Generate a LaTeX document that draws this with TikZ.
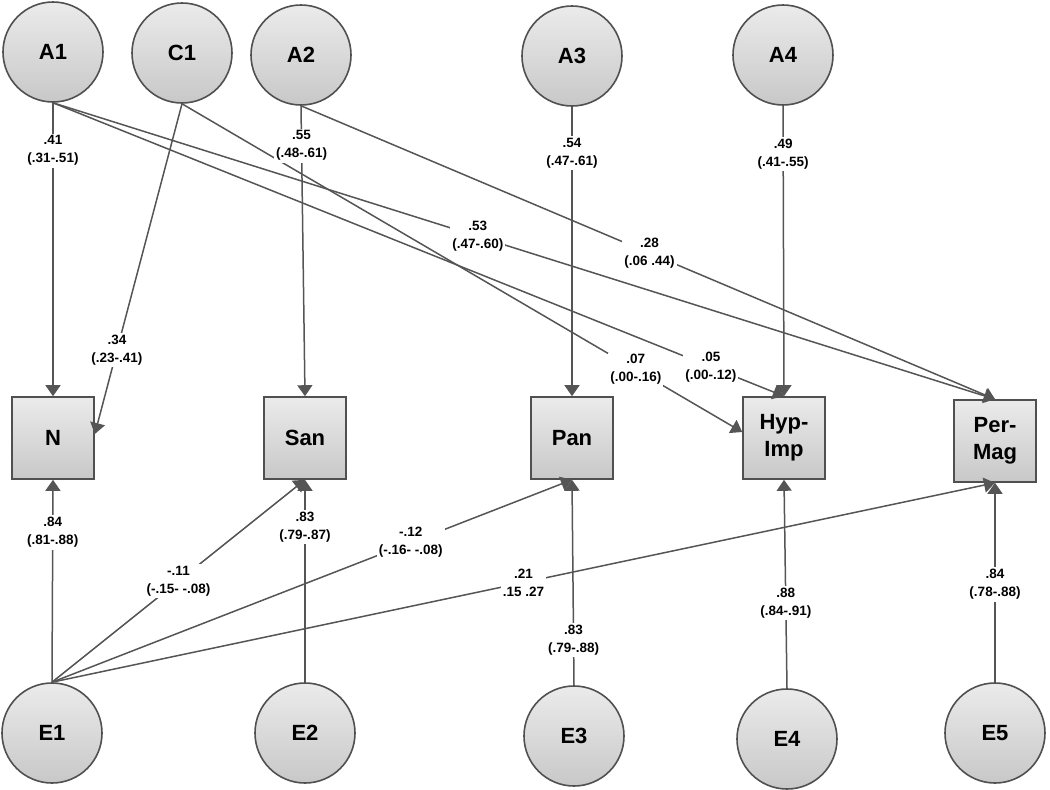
\documentclass[tikz,border=0pt]{standalone}
\usepackage{fontspec}
\setmainfont{Liberation Sans}
\usetikzlibrary{arrows.meta}
\definecolor{edgecol}{HTML}{555555}
\definecolor{bordcol}{HTML}{505050}
\definecolor{topcol}{HTML}{EBEBEB}
\definecolor{botcol}{HTML}{C8C8C8}
\tikzset{
 latent/.style={circle, draw=bordcol, line width=1.6pt, top color=topcol, bottom color=botcol, minimum size=100pt, inner sep=0pt, font=\fontsize{22}{26}\selectfont\bfseries},
 obs/.style={rectangle, draw=bordcol, line width=1.6pt, top color=topcol, bottom color=botcol, minimum size=82pt, inner sep=0pt, align=center, font=\fontsize{22}{27}\selectfont\bfseries},
 arr/.style={draw=edgecol, line width=1.5pt, -{Triangle[width=15pt,length=11pt]}},
 lbl/.style={fill=white, inner sep=2pt, align=center, font=\fontsize{13.5}{18}\selectfont\bfseries}
}
\begin{document}
\begin{tikzpicture}[x=1pt,y=-1pt]
\useasboundingbox (0,0) rectangle (1050,790);
% latent top
\node[latent] (A1) at (53,52) {A1};
\node[latent] (C1) at (182,53) {C1};
\node[latent] (A2) at (301,55) {A2};
\node[latent] (A3) at (572,56) {A3};
\node[latent] (A4) at (783,55) {A4};
% observed
\node[obs] (N) at (53,438) {N};
\node[obs] (San) at (305,438) {San};
\node[obs] (Pan) at (572,438) {Pan};
\node[obs] (HI) at (784,438) {Hyp-\\Imp};
\node[obs] (PM) at (995,441) {Per-\\Mag};
% errors
\node[latent] (E1) at (52,733) {E1};
\node[latent] (E2) at (305,733) {E2};
\node[latent] (E3) at (574,736) {E3};
\node[latent] (E4) at (787,739) {E4};
\node[latent] (E5) at (995,733) {E5};
% edges
\draw[arr] (A1.south) -- (N.north);
\draw[arr] (C1.south) -- ([yshift=4pt]N.east);
\draw[arr] (A2.south) -- (San.north);
\draw[arr] (A1.south) -- (PM.north);
\draw[arr] (A1.south) -- (HI.north);
\draw[arr] (C1.south) -- ([yshift=6pt]HI.west);
\draw[arr] (A2.south) -- (PM.north);
\draw[arr] (A3.south) -- (Pan.north);
\draw[arr] (A4.south) -- (HI.north);
\draw[arr] (E1.north) -- (N.south);
\draw[arr] (E1.north) -- (San.south);
\draw[arr] (E2.north) -- (San.south);
\draw[arr] (E1.north) -- (Pan.south);
\draw[arr] (E1.north) -- (PM.south);
\draw[arr] (E3.north) -- (Pan.south);
\draw[arr] (E4.north) -- (HI.south);
\draw[arr] (E5.north) -- (PM.south);
% labels
\path (A1.south) -- (N.north) node[lbl,pos=0.163]{.41\\(.31-.51)};
\path (C1.south) -- ([yshift=4pt]N.east) node[lbl,pos=0.746]{.34\\(.23-.41)};
\path (A2.south) -- (San.north) node[lbl,pos=0.137]{.55\\(.48-.61)};
\path (A1.south) -- (PM.north) node[lbl,pos=0.451]{.53\\(.47-.60)};
\path (A1.south) -- (HI.north) node[lbl,pos=0.90]{.05\\(.00-.12)};
\path (C1.south) -- ([yshift=6pt]HI.west) node[lbl,pos=0.81]{.07\\(.00-.16)};
\path (A2.south) -- (PM.north) node[lbl,pos=0.502]{.28\\(.06 .44)};
\path (A3.south) -- (Pan.north) node[lbl,pos=0.16]{.54\\(.47-.61)};
\path (A4.south) -- (HI.north) node[lbl,pos=0.165]{.49\\(.41-.55)};
\path (E1.north) -- (N.south) node[lbl,pos=0.74]{.84\\(.81-.88)};
\path (E1.north) -- (San.south) node[lbl,pos=0.5]{-.11\\(-.15- -.08)};
\path (E2.north) -- (San.south) node[lbl,pos=0.765]{.83\\(.79-.87)};
\path (E1.north) -- (Pan.south) node[lbl,pos=0.69]{-.12\\(-.16- -.08)};
\path (E1.north) -- (PM.south) node[lbl,pos=0.5]{.21\\.15 .27};
\path (E3.north) -- (Pan.south) node[lbl,pos=0.22]{.83\\(.79-.88)};
\path (E4.north) -- (HI.south) node[lbl,pos=0.41]{.88\\(.84-.91)};
\path (E5.north) -- (PM.south) node[lbl,pos=0.49]{.84\\(.78-.88)};
\end{tikzpicture}
\end{document}
